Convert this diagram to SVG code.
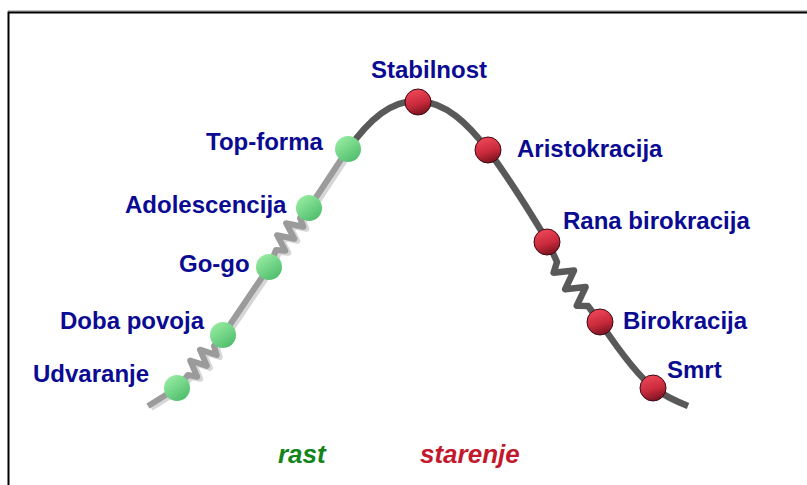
<svg xmlns="http://www.w3.org/2000/svg" width="807" height="485" viewBox="0 0 807 485">
<defs>
<linearGradient id="gG" x1="0.2" y1="0.1" x2="0.8" y2="0.95">
<stop offset="0" stop-color="#93ea9f"/>
<stop offset="1" stop-color="#4fbd6c"/>
</linearGradient>
<linearGradient id="gR" x1="0.3" y1="0.05" x2="0.6" y2="1">
<stop offset="0" stop-color="#ec4658"/>
<stop offset="0.55" stop-color="#c92a3b"/>
<stop offset="1" stop-color="#78121f"/>
</linearGradient>
<style>
.lbl{font-family:"Liberation Sans",Arial,sans-serif;font-weight:bold;font-size:24px;fill:#0a0a92}
.ph{font-family:"Liberation Sans",Arial,sans-serif;font-weight:bold;font-style:italic;font-size:26px}
.gn{fill:url(#gG)}
.rd{fill:url(#gR);stroke:#3c0a12;stroke-width:1}
.lt{fill:none;stroke:#9b9b9b;stroke-width:6;stroke-linejoin:round;stroke-linecap:butt}
.sh{fill:none;stroke:#d6d6d6;stroke-width:6;stroke-linejoin:round}
.dk{fill:none;stroke:#595959;stroke-width:6.5;stroke-linejoin:round;stroke-linecap:butt}
</style>
</defs>
<rect width="807" height="485" fill="#ffffff"/>
<g id="frame">
<line x1="8" y1="11" x2="807" y2="11" stroke="#8a8a8a" stroke-width="1"/>
<path d="M8.5 485 V12.5 H807" fill="none" stroke="#000" stroke-width="2"/>
</g>
<g id="connectors">
<path class="sh" transform="translate(3,2)" d="M148 406 L177 388 L188 375 L197.2 376.8 L190.2 360.5 L206.9 365.9 L200 349.7 L216.7 355 L214 346 L223 335 L269 267 L276 250 L285.4 250.8 L277.1 235.2 L294.4 238.8 L286.1 223.2 L303.4 226.8 L300 218 L309 208 L346 152"/>
<path class="lt" d="M148 406 L177 388 L188 375 L197.2 376.8 L190.2 360.5 L206.9 365.9 L200 349.7 L216.7 355 L214 346 L223 335 L269 267 L276 250 L285.4 250.8 L277.1 235.2 L294.4 238.8 L286.1 223.2 L303.4 226.8 L300 218 L309 208 L348 149"/>
<path class="dk" d="M346 152 C370 118 392 100 418 101 C446 102 468 124 488 150 C510 180 530 212 548 242 L557 262 L553.6 272.7 L574 270.55 L565.2 289.2 L585.6 287.05 L576.8 305.7 L588 306 L600 322 C620 352 640 378 655 389 C668 398 678 402 688 406"/>
</g>
<g id="n-udvaranje"><circle class="gn" cx="177" cy="388" r="13"/><text class="lbl" x="33" y="382">Udvaranje</text></g>
<g id="n-doba"><circle class="gn" cx="223" cy="335" r="13"/><text class="lbl" x="60" y="329">Doba povoja</text></g>
<g id="n-gogo"><circle class="gn" cx="269" cy="267" r="13"/><text class="lbl" x="179" y="272">Go-go</text></g>
<g id="n-adolescencija"><circle class="gn" cx="309" cy="208" r="13"/><text class="lbl" x="125" y="213">Adolescencija</text></g>
<g id="n-topforma"><circle class="gn" cx="348" cy="149" r="13"/><text class="lbl" x="206" y="150">Top-forma</text></g>
<g id="n-stabilnost"><circle class="rd" cx="418" cy="102" r="13"/><text class="lbl" x="371" y="78">Stabilnost</text></g>
<g id="n-aristokracija"><circle class="rd" cx="488" cy="150" r="13"/><text class="lbl" x="517" y="157">Aristokracija</text></g>
<g id="n-rana"><circle class="rd" cx="547" cy="242" r="13"/><text class="lbl" x="563" y="229">Rana birokracija</text></g>
<g id="n-birokracija"><circle class="rd" cx="600" cy="322" r="13"/><text class="lbl" x="623" y="329">Birokracija</text></g>
<g id="n-smrt"><circle class="rd" cx="653" cy="388" r="13"/><text class="lbl" x="667" y="378">Smrt</text></g>
<g id="phases">
<text class="ph" x="278" y="463" fill="#12841a">rast</text>
<text class="ph" x="420" y="463" fill="#c2192e">starenje</text>
</g>
</svg>
